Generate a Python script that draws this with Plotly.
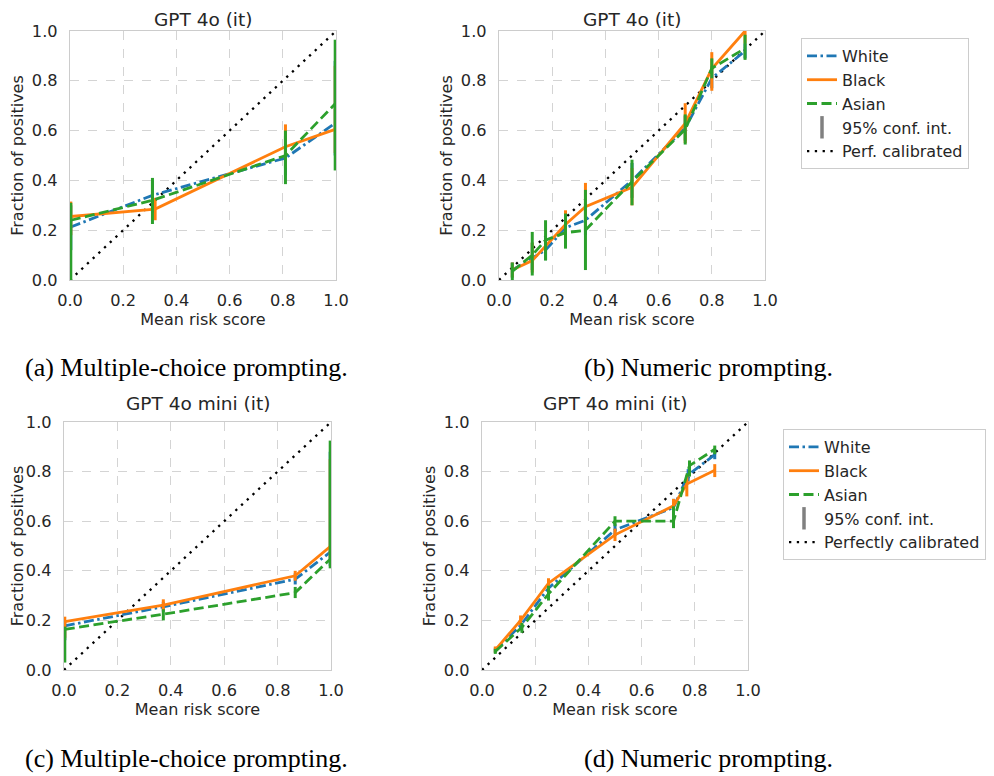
import plotly.graph_objects as go

# ---------------- data ----------------
groups = ["White", "Black", "Asian"]

# Panel (a): GPT 4o (it), multiple-choice
a_x_white = [0.003, 0.31, 0.81, 0.997]
a_y_white = [0.213, 0.34, 0.49, 0.63]
a_lo_white = [0.12, 0.27, 0.42, 0.50]
a_hi_white = [0.30, 0.40, 0.58, 0.88]
a_x_black = [0.003, 0.32, 0.81, 0.997]
a_y_black = [0.255, 0.285, 0.535, 0.605]
a_lo_black = [0.18, 0.24, 0.45, 0.51]
a_hi_black = [0.315, 0.33, 0.625, 0.86]
a_x_asian = [0.003, 0.31, 0.81, 0.997]
a_y_asian = [0.24, 0.32, 0.50, 0.708]
a_lo_asian = [0.0, 0.225, 0.385, 0.44]
a_hi_asian = [0.31, 0.41, 0.60, 0.965]

# Panel (b): GPT 4o (it), numeric
b_x_white = [0.05, 0.125, 0.175, 0.25, 0.325, 0.5, 0.7, 0.8, 0.925]
b_y_white = [0.04, 0.09, 0.12, 0.21, 0.24, 0.40, 0.61, 0.81, 0.92]
b_lo_white = [0.01, 0.04, 0.08, 0.15, 0.18, 0.33, 0.56, 0.77, 0.89]
b_hi_white = [0.07, 0.15, 0.17, 0.27, 0.31, 0.47, 0.66, 0.86, 0.95]
b_x_black = [0.05, 0.125, 0.25, 0.325, 0.5, 0.7, 0.8, 0.925]
b_y_black = [0.04, 0.078, 0.223, 0.294, 0.372, 0.629, 0.848, 1.0]
b_lo_black = [0.01, 0.03, 0.16, 0.20, 0.30, 0.55, 0.76, 0.95]
b_hi_black = [0.07, 0.15, 0.28, 0.39, 0.45, 0.71, 0.915, 1.0]
b_x_asian = [0.05, 0.125, 0.175, 0.25, 0.325, 0.5, 0.7, 0.8, 0.925]
b_y_asian = [0.035, 0.10, 0.16, 0.19, 0.20, 0.395, 0.605, 0.85, 0.93]
b_lo_asian = [0.0, 0.018, 0.078, 0.126, 0.04, 0.30, 0.544, 0.81, 0.884]
b_hi_asian = [0.07, 0.193, 0.24, 0.267, 0.362, 0.483, 0.665, 0.89, 0.985]

# Panel (c): GPT 4o mini (it), multiple-choice
c_x_white = [0.003, 0.372, 0.866, 0.997]
c_y_white = [0.178, 0.255, 0.366, 0.475]
c_lo_white = [0.12, 0.235, 0.345, 0.42]
c_hi_white = [0.20, 0.275, 0.39, 0.88]
c_x_black = [0.003, 0.372, 0.866, 0.997]
c_y_black = [0.195, 0.262, 0.38, 0.498]
c_lo_black = [0.13, 0.24, 0.36, 0.45]
c_hi_black = [0.215, 0.285, 0.40, 0.85]
c_x_asian = [0.003, 0.372, 0.866, 0.997]
c_y_asian = [0.164, 0.225, 0.312, 0.447]
c_lo_asian = [0.03, 0.20, 0.29, 0.41]
c_hi_asian = [0.175, 0.245, 0.335, 0.925]

# Panel (d): GPT 4o mini (it), numeric
d_x_white = [0.05, 0.145, 0.25, 0.5, 0.72, 0.775, 0.875]
d_y_white = [0.08, 0.18, 0.33, 0.565, 0.655, 0.787, 0.868]
d_lo_white = [0.07, 0.16, 0.31, 0.54, 0.62, 0.76, 0.85]
d_hi_white = [0.09, 0.20, 0.35, 0.59, 0.69, 0.81, 0.89]
d_x_black = [0.05, 0.145, 0.25, 0.5, 0.72, 0.77, 0.875]
d_y_black = [0.081, 0.20, 0.35, 0.545, 0.662, 0.75, 0.805]
d_lo_black = [0.07, 0.18, 0.33, 0.52, 0.63, 0.70, 0.778]
d_hi_black = [0.095, 0.22, 0.37, 0.57, 0.69, 0.785, 0.83]
d_x_asian = [0.05, 0.15, 0.25, 0.5, 0.72, 0.78, 0.875]
d_y_asian = [0.075, 0.172, 0.307, 0.60, 0.60, 0.824, 0.89]
d_lo_asian = [0.065, 0.15, 0.28, 0.58, 0.572, 0.78, 0.87]
d_hi_asian = [0.085, 0.19, 0.34, 0.62, 0.66, 0.845, 0.905]

diag = [0.0, 1.0]

panel_titles = ["GPT 4o (it)", "GPT 4o (it)", "GPT 4o mini (it)", "GPT 4o mini (it)"]
captions = ["(a) Multiple-choice prompting.", "(b) Numeric prompting.",
            "(c) Multiple-choice prompting.", "(d) Numeric prompting."]
tick_vals = [0.0, 0.2, 0.4, 0.6, 0.8, 1.0]
tick_text = ["0.0", "0.2", "0.4", "0.6", "0.8", "1.0"]

# ---------------- styling ----------------
OFF = 8  # page body margin of the browser
W, H = 994 - OFF, 776 - OFF
colors = {"White": "#1f77b4", "Black": "#ff7f0e", "Asian": "#2ca02c"}
dashes = {"White": "10px,3.5px,2.5px,3.5px", "Black": "solid", "Asian": "10px,4.5px"}
FONT = "DejaVu Sans"
TXT = "#262626"


def px_x(p):
    return (p - OFF) / W


def px_y(p):
    return 1 - (p - OFF) / H


# axes boxes in window pixels: (left, right, top, bottom)
boxes = [(70, 336, 31, 280), (499, 765, 31, 280), (64, 331, 422, 670), (482, 748, 422, 670)]
title_tops = [8, 8, 392, 392]

panels = [
    {"White": (a_x_white, a_y_white, a_lo_white, a_hi_white),
     "Black": (a_x_black, a_y_black, a_lo_black, a_hi_black),
     "Asian": (a_x_asian, a_y_asian, a_lo_asian, a_hi_asian)},
    {"White": (b_x_white, b_y_white, b_lo_white, b_hi_white),
     "Black": (b_x_black, b_y_black, b_lo_black, b_hi_black),
     "Asian": (b_x_asian, b_y_asian, b_lo_asian, b_hi_asian)},
    {"White": (c_x_white, c_y_white, c_lo_white, c_hi_white),
     "Black": (c_x_black, c_y_black, c_lo_black, c_hi_black),
     "Asian": (c_x_asian, c_y_asian, c_lo_asian, c_hi_asian)},
    {"White": (d_x_white, d_y_white, d_lo_white, d_hi_white),
     "Black": (d_x_black, d_y_black, d_lo_black, d_hi_black),
     "Asian": (d_x_asian, d_y_asian, d_lo_asian, d_hi_asian)},
]
legend_for_panel = {1: "legend", 3: "legend2"}
perf_label = {1: "Perf. calibrated", 3: "Perfectly calibrated"}

fig = go.Figure()
layout = {}

for i, (box, pdata) in enumerate(zip(boxes, panels)):
    n = i + 1
    xa = "x" if n == 1 else f"x{n}"
    ya = "y" if n == 1 else f"y{n}"
    xkey = "xaxis" if n == 1 else f"xaxis{n}"
    ykey = "yaxis" if n == 1 else f"yaxis{n}"
    l, r, t, b = box
    axis_common = dict(
        range=[0, 1], tickvals=tick_vals, ticktext=tick_text,
        showgrid=True, gridcolor="#d4d4d4", griddash="dash", gridwidth=1,
        showline=True, linecolor="#cccccc", linewidth=1.3, mirror=True,
        zeroline=False, ticks="outside", tickcolor="rgba(0,0,0,0)",
        tickfont=dict(family=FONT, size=16.2, color=TXT),
        title_font=dict(family=FONT, size=16, color=TXT),
        fixedrange=True, automargin=False,
    )
    layout[xkey] = dict(axis_common, domain=[px_x(l), px_x(r)], anchor=ya,
                        ticklen=5, title=dict(text="Mean risk score", standoff=4))
    layout[ykey] = dict(axis_common, domain=[px_y(b), px_y(t)], anchor=xa,
                        ticklen=8, title=dict(text="Fraction of positives", standoff=4))

    show = i in legend_for_panel
    lg = legend_for_panel.get(i, "legend")
    # diagonal
    fig.add_trace(go.Scatter(
        x=diag, y=diag, mode="lines", xaxis=xa, yaxis=ya,
        line=dict(color="black", width=2.3, dash="2.3px,5.5px"),
        name=perf_label.get(i, "Perf. calibrated"), showlegend=False, hoverinfo="skip",
    ))
    for g in groups:
        gx, gy, glo, ghi = pdata[g]
        fig.add_trace(go.Scatter(
            x=gx, y=gy, mode="lines", xaxis=xa, yaxis=ya, name=g,
            line=dict(color=colors[g], width=2.8, dash=dashes[g]),
            error_y=dict(type="data", symmetric=False,
                         array=[h - v for h, v in zip(ghi, gy)],
                         arrayminus=[v - lo for v, lo in zip(gy, glo)],
                         color=colors[g], thickness=3, width=0),
            showlegend=show, legend=lg,
        ))
    if show:
        fig.add_trace(go.Scatter(
            x=[None], y=[None], mode="markers", xaxis=xa, yaxis=ya,
            name="95% conf. int.",
            marker=dict(symbol="line-ns-open", size=16, color="#808080",
                        line=dict(color="#808080", width=3.5)),
            showlegend=True, legend=lg,
        ))
        fig.add_trace(go.Scatter(
            x=[None], y=[None], mode="lines", xaxis=xa, yaxis=ya,
            name=perf_label[i],
            line=dict(color="black", width=2.3, dash="2.3px,5.5px"),
            showlegend=True, legend=lg,
        ))

annotations = []
for i, box in enumerate(boxes):
    l, r, t, b = box
    annotations.append(dict(
        text=panel_titles[i], x=px_x((l + r) / 2), y=px_y(title_tops[i]),
        xref="paper", yref="paper", xanchor="center", yanchor="top",
        borderpad=0,
        showarrow=False, font=dict(family=FONT, size=18.5, color=TXT),
    ))
cap_pos = [(186, 367), (708, 367), (186, 758), (708, 758)]
for i, (cx, cy) in enumerate(cap_pos):
    annotations.append(dict(
        text=captions[i], x=px_x(cx), y=px_y(cy),
        xref="paper", yref="paper", xanchor="center", yanchor="middle",
        showarrow=False, font=dict(family="Liberation Serif", size=26, color="black"),
    ))

legend_style = dict(
    font=dict(family=FONT, size=16, color=TXT),
    bgcolor="white", bordercolor="#cccccc", borderwidth=1,
    xref="paper", yref="paper", xanchor="left", yanchor="top",
    tracegroupgap=0, itemwidth=30,
)
layout["legend"] = dict(legend_style, x=px_x(801), y=px_y(38))
layout["legend2"] = dict(legend_style, x=px_x(783), y=px_y(429))

fig.update_layout(
    **layout,
    annotations=annotations,
    width=W, height=H,
    margin=dict(l=0, r=0, t=0, b=0, autoexpand=False),
    paper_bgcolor="white", plot_bgcolor="white",
    showlegend=True,
)

fig.write_html("out.html")
